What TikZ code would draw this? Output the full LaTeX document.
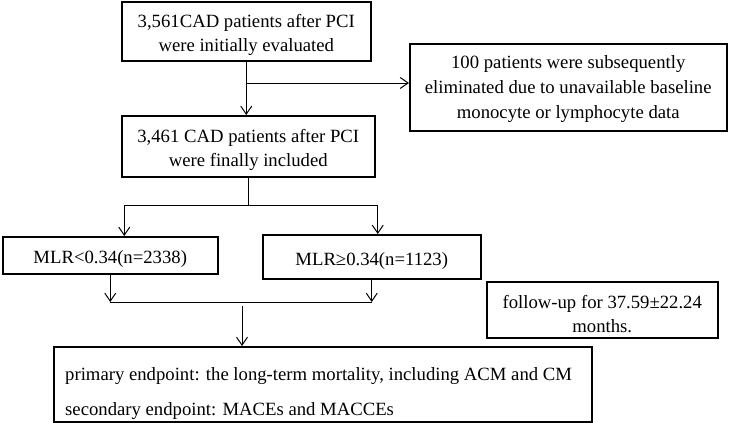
\documentclass[tikz,border=0pt]{standalone}
\usepackage{amssymb}
\usepackage{fontspec}
\setmainfont{Liberation Serif}
\usetikzlibrary{arrows.meta}
\newcommand{\boxstrut}{\rule{0pt}{21pt}}

\begin{document}
\begin{tikzpicture}
		[x=1pt,y=-1pt,
		box/.style={draw,line width=1.5pt,anchor=north west,align=center,inner sep=0pt,
			font=\fontsize{18.7}{24}\selectfont},
		txt/.style={anchor=base west,inner sep=0pt,font=\fontsize{18.7}{24}\selectfont},
		line/.style={line width=1pt},
		arrow/.style={line,-{Straight Barb[length=8pt,width=11pt]}}]
		\useasboundingbox (0,0) rectangle (734,423);
		\node[box,minimum width=249,minimum height=59] (eval) at (121,1)
			{\boxstrut 3,561CAD patients after PCI\\were initially evaluated};
		\node[box,minimum width=317,minimum height=87,font=\fontsize{18.7}{25}\selectfont] (excl) at (409,43)
			{\rule{0pt}{17pt}100 patients were subsequently\\eliminated due to unavailable baseline\\monocyte or lymphocyte data};
		\node[box,minimum width=253,minimum height=61] (incl) at (121,115)
			{\boxstrut 3,461 CAD patients after PCI\\were finally included};
		\node[box,minimum width=215,minimum height=37] (low) at (2,236)
			{\boxstrut MLR<0.34(n=2338)};
		\node[box,minimum width=218,minimum height=44] (high) at (262,234)
			{\boxstrut MLR≥0.34(n=1123)};
		\node[box,minimum width=231,minimum height=56] (fu) at (486,281)
			{\boxstrut follow-up for 37.59±22.24\\months.};
		\node[box,minimum width=538,minimum height=75] (ep) at (53,346) {};
		\node[txt] (prim) at ([xshift=12,yshift=-34]ep.north west)
			{primary endpoint: the long-term mortality, including ACM and CM};
		\node[txt] (sec) at ([xshift=12,yshift=-69]ep.north west)
			{secondary endpoint: MACEs and MACCEs};

		\coordinate (s1) at (eval.south |- 0,83);
		\draw[line] (eval.south) -- (s1);
		\draw[arrow] (s1) -- (s1 |- incl.north);
		\draw[arrow] (s1) -- (s1 -| excl.west);

		\coordinate (s2) at (incl.south |- 0,205);
		\draw[line] (incl.south) -- (s2);
		\draw[arrow] (s2) -| ([xshift=14]low.north);
		\draw[arrow] (s2) -| ([xshift=6]high.north);

		\coordinate (m1) at (low.south |- 0,302);
		\coordinate (m2) at (high.south |- 0,302);
		\draw[arrow] (low.south) -- (m1);
		\draw[arrow] (high.south) -- (m2);
		\draw[line] (m1) -- (m2);
		\coordinate (s3) at (242,306);
		\draw[arrow] (s3) -- (s3 |- ep.north);
\end{tikzpicture}
\end{document}
